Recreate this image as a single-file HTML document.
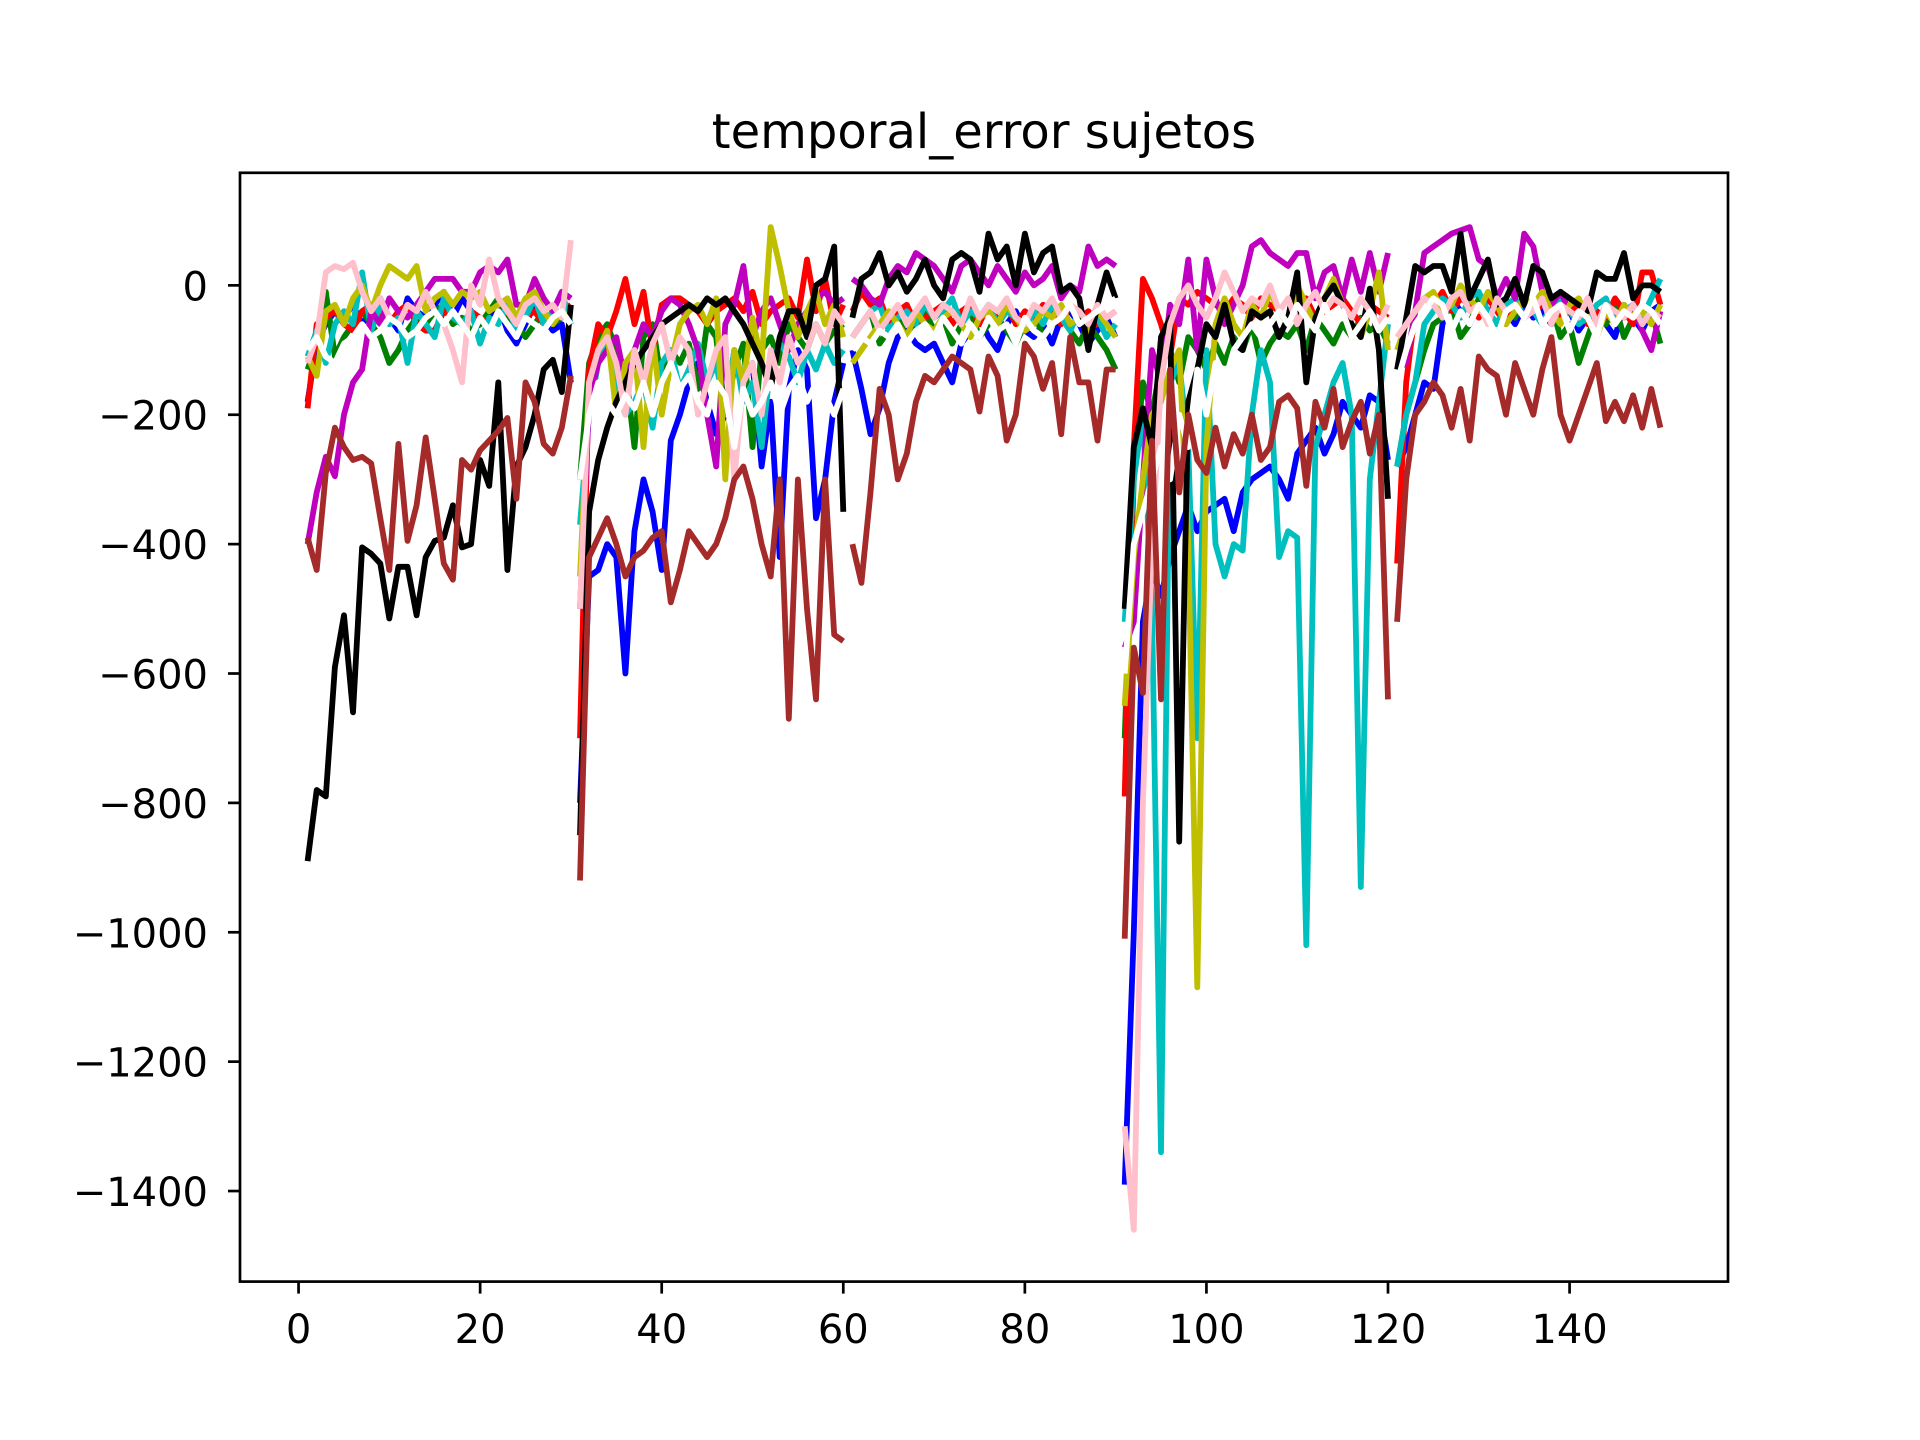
<!DOCTYPE html>
<html><head><meta charset="utf-8"><style>
html,body{margin:0;padding:0;background:#fff;}
svg{display:block;font-family:"DejaVu Sans","Liberation Sans",sans-serif;}
</style></head><body>
<svg id="chart" width="1920" height="1440" viewBox="0 0 1920 1440" xmlns="http://www.w3.org/2000/svg">
<rect width="1920" height="1440" fill="#fff"/>
<text x="984" y="148" font-size="48" text-anchor="middle">temporal_error sujetos</text>
<g id="plot"></g>
<g id="axes"></g>
</svg>
<script>
const xTicks=[0,20,40,60,80,100,120,140];
const yTicks=[0,-200,-400,-600,-800,-1000,-1200,-1400];
const seriesColors=['#0000ff','#008000','#ff0000','#00bfbf','#bf00bf','#bfbf00','#000000','#ffc0cb','#ffffff','#a52a2a'];
const seriesNames=['blue','green','red','cyan','magenta','yellow','black','pink','white','brown'];
const blue=[-180,-90,-60,-40,-50,-30,-60,-40,-20,-50,-70,-20,-40,-50,-30,-10,-50,-20,-40,-60,-50,-30,-70,-90,-60,-30,-50,-70,-60,-150,
-800,-450,-440,-400,-420,-600,-380,-300,-350,-440,-240,-200,-150,-120,-180,-230,-200,-100,-150,-120,-280,-180,-420,-160,-100,-130,-360,-300,-180,-120,
-100,-160,-230,-190,-120,-80,-70,-90,-100,-90,-120,-150,-90,-70,-50,-80,-100,-60,-40,-70,-80,-60,-90,-50,-40,-60,-90,-70,-50,-80,
-1390,-1000,-520,-440,-480,-420,-380,-340,-380,-350,-340,-330,-380,-320,-300,-290,-280,-300,-330,-260,-240,-220,-260,-230,-180,-200,-220,-170,-180,-270,
-280,-250,-200,-150,-160,-60,-20,-40,-60,-30,-50,-20,-40,-60,-30,-50,-40,-60,-30,-40,-70,-50,-40,-60,-80,-30,-50,-70,-40,-30];
const green=[-130,-90,-10,-110,-80,-60,-40,-60,-80,-120,-100,-70,-50,-60,-40,-30,-60,-50,-70,-60,-40,-20,-50,-60,-80,-60,-40,-60,-50,-40,
-300,-120,-80,-60,-100,-130,-250,-80,-60,-150,-100,-120,-90,-160,-60,-80,-200,-130,-90,-250,-100,-80,-120,-60,-80,-100,-60,-90,-70,-60,
-80,-60,-40,-90,-70,-50,-80,-60,-40,-70,-50,-90,-60,-40,-80,-60,-50,-70,-90,-60,-40,-80,-60,-50,-70,-90,-60,-80,-100,-130,
-700,-300,-150,-200,-120,-100,-150,-80,-100,-130,-90,-120,-80,-100,-60,-120,-90,-70,-80,-60,-100,-50,-70,-90,-60,-80,-50,-70,-60,-90,
-280,-200,-150,-100,-60,-50,-30,-80,-60,-20,-40,-60,-30,-50,-20,-40,-60,-30,-80,-60,-120,-80,-40,-60,-30,-80,-50,-60,-40,-90];
const red=[-190,-60,-50,-40,-60,-70,-40,-30,-50,-60,-40,-30,-60,-70,-70,-40,-50,-60,-40,-50,-60,-50,-40,-60,-50,-40,-60,-50,-40,-30,
-700,-130,-60,-80,-40,10,-60,-10,-100,-30,-20,-20,-30,-40,-60,-40,-30,-20,-40,-10,-60,-40,-30,-20,-50,40,-40,10,-60,-30,
-40,-10,-30,-20,-60,-40,-30,-60,-50,-40,-30,-60,-40,-30,-60,-50,-40,-30,-60,-40,-50,-30,-40,-60,-30,-50,-40,-60,-50,-40,
-790,-250,10,-20,-60,-110,-20,-30,-10,-20,-30,-40,-20,-30,-50,-20,-30,-40,-60,-30,-20,-50,-40,-30,-20,-40,-60,-30,-40,-50,
-430,-150,-40,-20,-30,-10,-40,-20,-30,-50,-20,-40,-60,-30,-20,-40,-30,-20,-50,-40,-30,-60,-40,-50,-20,-40,-60,20,20,-30];
const cyan=[-110,-70,-120,-60,-40,-60,20,-70,-30,-60,-50,-120,-40,-60,-80,-20,-50,-60,-40,-90,-50,-60,-30,-70,-50,-20,-60,-40,-10,-60,
-370,-200,-120,-80,-150,-200,-180,-150,-220,-120,-100,-160,-130,-90,-150,-120,-200,-100,-180,-150,-250,-120,-90,-110,-150,-100,-130,-90,-120,-100,
-80,-60,-40,-30,-70,-50,-40,-60,-30,-50,-40,-20,-60,-40,-50,-30,-60,-40,-50,-70,-40,-60,-30,-50,-70,-40,-60,-50,-80,-60,
-520,-300,-200,-500,-1340,-150,-120,-250,-700,-100,-400,-450,-400,-410,-200,-100,-150,-420,-380,-390,-1020,-250,-200,-150,-120,-200,-930,-300,-180,-60,
-280,-200,-150,-60,-40,-20,-30,-50,-20,-10,-40,-60,-30,-20,-50,-40,-60,-30,-20,-40,-60,-50,-30,-20,-60,-40,-30,-50,-20,10];
const magenta=[-400,-320,-265,-295,-200,-150,-130,-40,-60,-20,-40,-50,-30,-10,10,10,10,-10,-10,20,30,20,40,-30,-30,10,-20,-40,-10,-20,
-500,-180,-120,-100,-80,-150,-100,-60,-80,-40,-20,-30,-60,-100,-200,-280,-60,-30,30,-80,-40,-20,-60,-100,-60,-40,-20,-10,-30,-20,
10,0,-20,-30,10,30,20,50,40,30,10,-10,30,40,20,0,30,10,-10,20,0,10,30,-20,0,-10,60,30,40,30,
-560,-520,-300,-100,-150,-30,-60,40,-100,40,-20,-60,-30,0,60,70,50,40,30,50,50,-20,20,30,-20,40,-10,50,-10,50,
-130,-120,-40,50,60,70,80,85,90,40,30,-20,10,-20,80,60,-10,-30,-10,-40,-50,-20,-60,-30,-40,-50,-30,-70,-100,-40];
const yellow=[-110,-140,-40,-30,-60,-20,0,-40,0,30,20,10,30,-40,-20,-10,-30,-10,-20,-10,-40,-30,-20,-50,-20,-10,-40,-60,-40,-50,
-450,-150,-100,-70,-200,-120,-100,-250,-80,-200,-120,-60,-40,-30,-60,-20,-300,-100,-150,-50,-120,90,30,-40,-80,-40,-10,-60,-30,-80,
-120,-100,-80,-60,-40,-60,-80,-40,-60,-70,-50,-40,-60,-80,-50,-40,-60,-30,-50,-70,-60,-40,-50,-30,-60,-50,-70,-40,-60,-80,
-650,-420,-300,-200,-180,-130,-100,-400,-1085,-250,-60,-20,-60,-80,-30,-50,-10,-40,-60,0,-30,-60,-20,10,-30,-60,-80,-40,20,-100,
-100,-60,-40,-20,-10,-40,-30,0,-20,-40,-10,-30,-60,-40,-20,-30,-10,-40,-60,-30,-20,-50,-80,-40,-60,-30,-50,-40,-60,-30];
const black=[-890,-780,-790,-590,-510,-660,-405,-415,-430,-515,-435,-435,-510,-420,-395,-390,-340,-405,-400,-270,-310,-150,-440,-280,-250,-200,-130,-115,-165,-30,
-850,-350,-270,-220,-180,-150,-120,-100,-80,-60,-50,-40,-30,-40,-20,-30,-20,-40,-60,-90,-120,-160,-80,-40,-40,-80,0,10,60,-350,
-50,10,20,50,0,20,-10,10,40,0,-20,40,50,40,-10,80,40,60,0,80,20,50,60,-10,0,-20,-100,-30,20,-20,
-500,-250,-190,-250,-80,-50,-860,-180,-130,-60,-80,-30,-90,-100,-40,-50,-40,-80,-50,20,-150,-50,-20,0,-30,-60,-80,-5,-100,-330,
-130,-50,30,20,30,30,-10,80,-20,10,40,-30,-20,10,-30,30,20,-20,-10,-20,-30,-40,20,10,10,50,-20,0,0,-10];
const pink=[-120,-80,20,30,25,35,-10,-40,-20,-50,-60,-30,-40,-10,-40,-60,-100,-150,0,-30,40,-20,-40,-60,-30,-20,-40,-30,-50,70,
-500,-150,-100,-80,-120,-200,-100,-150,-90,-60,-120,-80,-100,-200,-150,-100,-80,-300,-150,-120,-200,-100,-150,-80,-120,-100,-60,-90,-40,-60,
-80,-60,-40,-70,-50,-30,-60,-40,-20,-50,-30,-40,-60,-20,-50,-30,-40,-20,-50,-60,-30,-40,-20,-50,-30,-40,-60,-30,-50,-40,
-1300,-1460,-800,-400,-150,-60,-20,0,-30,-50,-20,20,-10,-40,-20,-30,0,-40,-20,-60,-30,-10,-40,-20,-30,-50,-20,-40,-60,-30,
-80,-60,-40,-20,-30,-50,-20,-10,-40,-30,-60,-20,-40,-30,-50,-40,-20,-60,-30,-40,-50,-20,-60,-30,-40,-50,-30,-60,-40,-50];
const white=[-100,-80,-110,-120,-90,-80,-60,-80,-70,-50,-60,-80,-70,-50,-40,-60,-40,-60,-80,-50,-70,-40,-60,-80,-50,-60,-70,-50,-40,-60,
-300,-200,-150,-180,-200,-170,-190,-150,-200,-150,-120,-160,-140,-180,-200,-150,-170,-250,-160,-200,-180,-150,-200,-160,-140,-180,-150,-170,-200,-160,
-100,-80,-90,-70,-80,-60,-90,-70,-60,-80,-50,-70,-90,-60,-80,-50,-70,-60,-90,-50,-70,-80,-60,-50,-30,-60,-50,-40,-30,-20,
-600,-400,-350,-300,-250,-300,-200,-250,-130,-200,-120,-150,-100,-80,-60,-80,-60,-40,-60,-30,-50,-70,-30,-60,-40,-80,-60,-40,-70,-50,
-150,-100,-60,-40,-20,-30,-70,-40,-60,-30,-50,-80,-40,-30,-50,-20,-60,-40,-30,-70,-40,-50,-80,-30,-60,-40,-50,-30,-40,-60];
const brown=[-390,-440,-290,-220,-250,-270,-265,-275,-360,-440,-245,-395,-340,-235,-330,-430,-455,-270,-285,-255,-240,-225,-205,-330,-150,-180,-245,-260,-220,-140,
-920,-420,-390,-360,-400,-450,-420,-410,-390,-380,-490,-440,-380,-400,-420,-400,-360,-300,-280,-330,-400,-450,-300,-670,-300,-500,-640,-300,-540,-550,
-400,-460,-320,-160,-200,-300,-260,-180,-140,-150,-130,-110,-120,-130,-195,-110,-140,-240,-200,-90,-110,-160,-120,-230,-80,-150,-150,-240,-130,-130,
-1010,-560,-630,-240,-640,-130,-320,-200,-270,-290,-220,-280,-230,-260,-200,-270,-250,-180,-170,-190,-310,-180,-220,-160,-250,-210,-180,-260,-200,-640,
-520,-300,-200,-180,-150,-170,-220,-160,-240,-110,-130,-140,-200,-120,-160,-200,-130,-80,-200,-240,-200,-160,-120,-210,-180,-210,-170,-220,-160,-220];
const allSeries=[blue,green,red,cyan,magenta,yellow,black,pink,white,brown];
const segLen=30;

const L=240,R=1728,T=172.8,B=1281.6;
const xmin=-6.45,xmax=157.45,ymin=-1540,ymax=174;
function sx(v){return L+(v-xmin)/(xmax-xmin)*(R-L);}
function sy(v){return B-(v-ymin)/(ymax-ymin)*(B-T);}
const NS='http://www.w3.org/2000/svg';
const plot=document.getElementById('plot');
const axes=document.getElementById('axes');
const clip=document.createElementNS(NS,'clipPath');clip.setAttribute('id','clp');
const cr=document.createElementNS(NS,'rect');
cr.setAttribute('x',L);cr.setAttribute('y',T);cr.setAttribute('width',R-L);cr.setAttribute('height',B-T);
clip.appendChild(cr);plot.appendChild(clip);
plot.setAttribute('clip-path','url(#clp)');
allSeries.forEach(function(s,i){
  const g=document.createElementNS(NS,'g');
  
  
  for(let st=0;st<s.length;st+=segLen){
    let d='';
    for(let j=st;j<Math.min(st+segLen,s.length);j++){
      d+=(j===st?'M':'L')+sx(j+1).toFixed(1)+','+sy(s[j]).toFixed(1);
    }
    const p=document.createElementNS(NS,'path');
    
    
    p.setAttribute('d',d);p.setAttribute('fill','none');
    p.setAttribute('stroke',seriesColors[i]);p.setAttribute('stroke-width','5.8');
    p.setAttribute('stroke-linejoin','round');
    g.appendChild(p);
  }
  plot.appendChild(g);
});
const frame=document.createElementNS(NS,'rect');


frame.setAttribute('x',L);frame.setAttribute('y',T);frame.setAttribute('width',R-L);frame.setAttribute('height',B-T);
frame.setAttribute('fill','none');frame.setAttribute('stroke','#000');frame.setAttribute('stroke-width','2.7');
axes.appendChild(frame);
xTicks.forEach(function(v){
  const x=sx(v);
  const t=document.createElementNS(NS,'line');
  
  
  t.setAttribute('x1',x);t.setAttribute('x2',x);t.setAttribute('y1',B);t.setAttribute('y2',B+12);
  t.setAttribute('stroke','#000');t.setAttribute('stroke-width','2.7');axes.appendChild(t);
  const tx=document.createElementNS(NS,'text');
  
  
  tx.setAttribute('x',x);tx.setAttribute('y',1343);tx.setAttribute('font-size','40');
  tx.setAttribute('text-anchor','middle');tx.textContent=String(v);axes.appendChild(tx);
});
yTicks.forEach(function(v){
  const y=sy(v);
  const t=document.createElementNS(NS,'line');
  
  
  t.setAttribute('x1',L-12);t.setAttribute('x2',L);t.setAttribute('y1',y);t.setAttribute('y2',y);
  t.setAttribute('stroke','#000');t.setAttribute('stroke-width','2.7');axes.appendChild(t);
  const tx=document.createElementNS(NS,'text');
  
  
  tx.setAttribute('x',208);tx.setAttribute('y',y+15);tx.setAttribute('font-size','40');
  tx.setAttribute('text-anchor','end');tx.textContent=(v<0?'\u2212'+Math.abs(v):String(v));axes.appendChild(tx);
});
</script>
</body></html>
